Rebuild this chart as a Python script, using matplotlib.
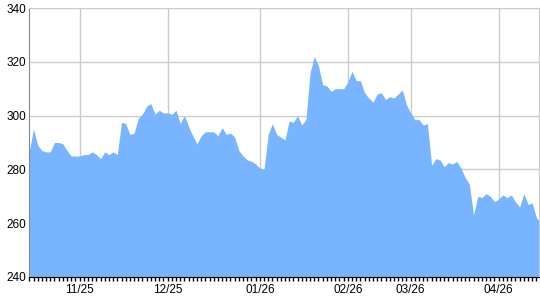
import matplotlib
matplotlib.use("Agg")
import matplotlib.pyplot as plt
from matplotlib.ticker import FixedLocator, MultipleLocator
import numpy as np

# closing prices, one per trading day
prices = [287, 295, 289, 287, 286.5, 286.5, 290, 290, 289.5, 287,
          285, 285, 285, 285.5, 285.5, 286.5, 285.5, 284, 286.5, 285.5,
          286.5, 285.5, 297.5, 297, 293, 293.5, 299, 300.5, 303.5, 304.5,
          300.5, 302, 301, 301, 300.5, 302, 297, 300, 296, 292.5,
          289.5, 292.5, 294, 294, 294, 292.5, 295.5, 293, 293.5, 292,
          287, 285, 283.5, 283, 282, 280.5, 280, 293, 297, 293,
          292, 291, 298, 297.5, 300, 296.5, 298.5, 316, 322, 318.5,
          311.5, 311, 309, 310, 310, 310, 312.5, 316.5, 313, 313,
          308.5, 306.5, 305, 308, 308.5, 306, 307, 306.5, 308, 309.5,
          304, 301, 298.5, 298.5, 296.5, 297, 281.5, 284, 283.5, 281,
          282.5, 282, 283, 280.5, 277, 274.5, 263, 270, 269.5, 271,
          270, 268, 269, 270.5, 269.5, 270.5, 268, 266, 271, 267,
          267.5, 262, 260.5]

tick_pos = [12, 33, 55, 76, 91, 112]
tick_labels = ['11/25', '12/25', '01/26', '02/26', '03/26', '04/26']

plt.rcParams['font.family'] = ['Liberation Sans', 'DejaVu Sans']

fig = plt.figure(figsize=(5.4, 3.0), dpi=100)
ax = fig.add_axes([0.0543, 0.0767, 0.9437, 0.8966])
ax.set_axisbelow(True)

x = np.arange(len(prices))
ax.fill_between(x, prices, 240, color='#78b4ff', lw=0, zorder=2)

ax.set_xlim(0, 121.6)
ax.set_ylim(240, 340)

ax.xaxis.set_major_locator(FixedLocator(tick_pos))
ax.set_xticklabels(tick_labels)
ax.xaxis.set_minor_locator(MultipleLocator(1))
ax.set_yticks([240, 260, 280, 300, 320, 340])

ax.grid(True, which='major', color='#cccccc', lw=1)
ax.tick_params(axis='x', which='both', length=3, width=1, color='black',
               direction='out', labelsize=8.5, pad=2)
ax.tick_params(axis='y', length=0, labelsize=8.5, pad=2)

for s in ['top', 'right']:
    ax.spines[s].set_color('#cccccc')
ax.spines['left'].set_color('#888888')
ax.spines['bottom'].set_color('black')

plt.savefig('out.png', dpi=100)
